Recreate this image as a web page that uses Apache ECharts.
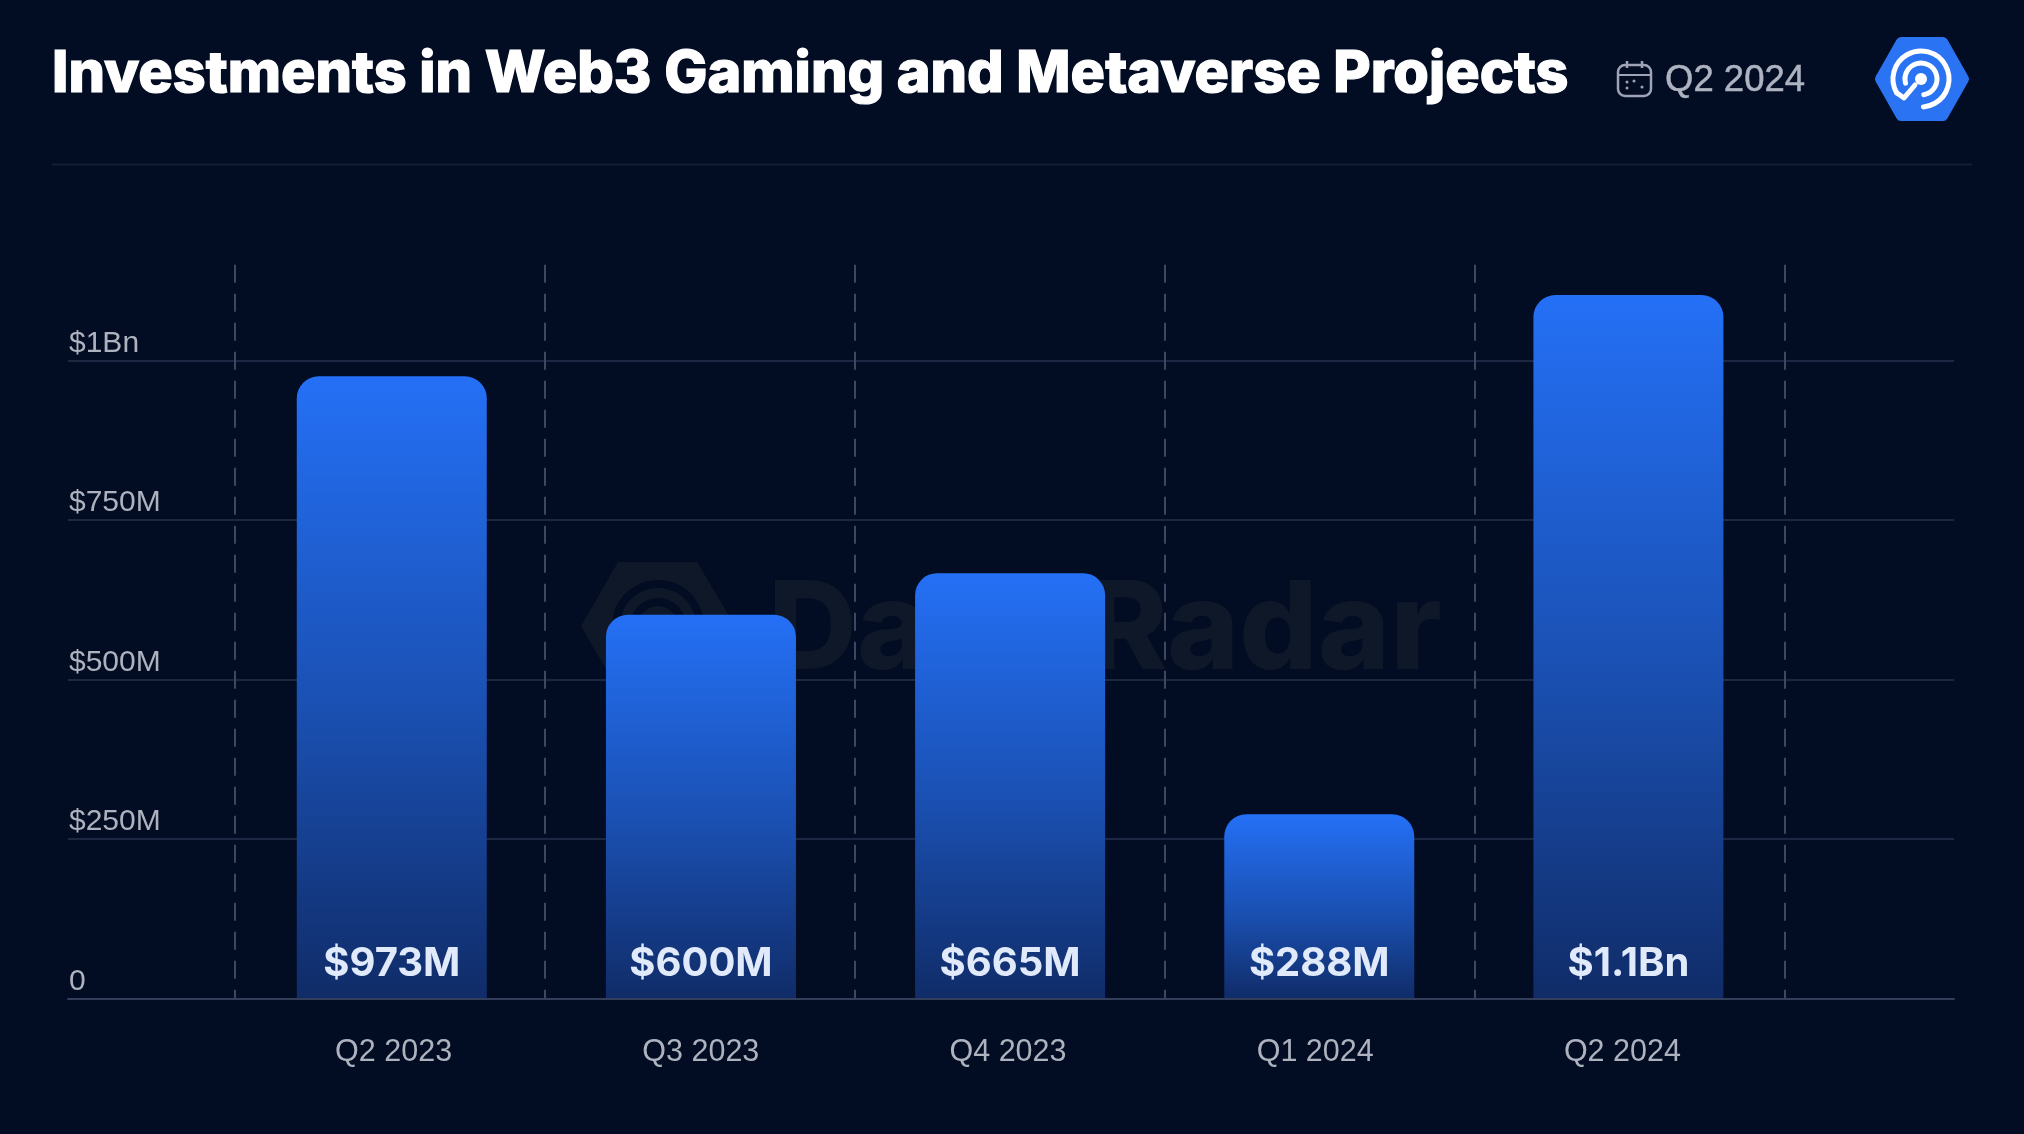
<!DOCTYPE html>
<html>
<head>
<meta charset="utf-8">
<title>Investments in Web3 Gaming and Metaverse Projects</title>
<script src="https://cdn.jsdelivr.net/npm/echarts@6/dist/echarts.min.js"></script>
<style>
  html, body { margin: 0; padding: 0; background: #020c23; }
  #main { width: 2024px; height: 1134px; }
</style>
</head>
<body>
<div id="main"></div>
<script>
var categories = ['Q2 2023', 'Q3 2023', 'Q4 2023', 'Q1 2024', 'Q2 2024'];
var investments = [973, 600, 665, 288, 1100];
var barLabels = ['$973M', '$600M', '$665M', '$288M', '$1.1Bn'];
var yTickValues = [0, 250, 500, 750, 1000];
var yTickLabels = ['0', '$250M', '$500M', '$750M', '$1Bn'];

var FONT = '"Liberation Sans", Arial, sans-serif';
var LOGO_X = 1921, LOGO_Y = 79;
var CAL = '#9ea4b6';

function rad(d) { return d * Math.PI / 180; }

var myChart = echarts.init(document.getElementById('main'));

var option = {
  backgroundColor: '#020c23',
  animation: false,
  title: {
    text: 'Investments in Web3 Gaming and Metaverse Projects',
    left: 52,
    top: 46,
    padding: 0,
    textStyle: {
      color: '#ffffff', fontFamily: 'Inter', fontWeight: 800, fontSize: 57.5,
      textBorderColor: '#ffffff', textBorderWidth: 1.2
    }
  },
  // the reference's rules, columns, bars and labels do not share one spacing,
  // so each gets its own grid: 0 rules, 1 dashed columns, 2 bars, 3 quarter labels
  grid: [
    { left: 68, right: 70, top: 360.5, bottom: 135.5 },
    { left: 235, right: 239, top: 264.8, bottom: 135.5 },
    { left: 237.2, right: 241, top: 263, bottom: 135.5 },
    { left: 240, right: 248, top: 263, bottom: 135.5 }
  ],
  xAxis: [
    {
      gridIndex: 0, type: 'value', min: 0, max: 1,
      axisLabel: { show: false }, axisTick: { show: false }, splitLine: { show: false },
      axisLine: { show: true, lineStyle: { color: '#333e5b', width: 2 } }, z: 3
    },
    {
      gridIndex: 1, type: 'category', data: categories,
      axisLine: { show: false }, axisTick: { show: false }, axisLabel: { show: false },
      splitLine: { show: true, lineStyle: { color: '#3d4760', width: 2, type: [18, 11] } }
    },
    {
      gridIndex: 2, type: 'category', data: categories,
      axisLine: { show: false }, axisTick: { show: false }, axisLabel: { show: false },
      splitLine: { show: false }
    },
    {
      gridIndex: 3, type: 'category', data: categories,
      axisLine: { show: false }, axisTick: { show: false }, splitLine: { show: false },
      axisLabel: { color: '#adb2be', fontFamily: FONT, fontSize: 30.5, margin: 39 }
    }
  ],
  yAxis: [
    {
      gridIndex: 0, type: 'value', min: 0, max: 1000, interval: 250,
      axisLine: { show: false }, axisTick: { show: false },
      splitLine: { show: true, lineStyle: { color: '#1c2742', width: 2 } },
      axisLabel: {
        inside: true, margin: 1, verticalAlign: 'bottom', padding: [0, 0, 2, 0],
        color: '#adb2be', fontFamily: FONT, fontSize: 30,
        formatter: function (v) { return yTickLabels[yTickValues.indexOf(v)]; }
      }
    },
    { gridIndex: 1, type: 'value', min: 0, max: 1150, show: false },
    { gridIndex: 2, type: 'value', min: 0, max: 1150, show: false },
    { gridIndex: 3, type: 'value', min: 0, max: 1150, show: false }
  ],
  series: [{
    type: 'bar',
    xAxisIndex: 2,
    yAxisIndex: 2,
    data: investments,
    barWidth: 190,
    itemStyle: {
      borderRadius: [22, 22, 0, 0],
      color: new echarts.graphic.LinearGradient(0, 0, 0, 1, [
        { offset: 0, color: '#2470f6' },
        { offset: 0.55, color: '#1a4fb0' },
        { offset: 1, color: '#102c68' }
      ])
    },
    label: {
      show: true,
      position: 'insideBottom',
      distance: 15,
      color: '#e0eafb',
      fontFamily: 'Inter',
      fontWeight: 'bold',
      fontSize: 40,
      formatter: function (p) { return barLabels[p.dataIndex]; }
    }
  }],
  graphic: [
    // divider under the header
    { type: 'line', z: 1, shape: { x1: 52, y1: 164.5, x2: 1972, y2: 164.5 }, style: { stroke: '#141d36', lineWidth: 2 } },
    // period
    { type: 'text', z: 1, x: 1665, y: 62, style: { text: 'Q2 2024', fill: '#aeb3c1', font: '36.5px ' + FONT, stroke: '#aeb3c1', lineWidth: 0.5 } },
    // calendar icon
    { type: 'rect', z: 1, shape: { x: 1618, y: 65, width: 33, height: 31, r: 7 }, style: { fill: 'none', stroke: CAL, lineWidth: 2.5 } },
    { type: 'line', z: 1, shape: { x1: 1618, y1: 75, x2: 1651, y2: 75 }, style: { stroke: CAL, lineWidth: 2 } },
    { type: 'line', z: 1, shape: { x1: 1627, y1: 61, x2: 1627, y2: 68 }, style: { stroke: CAL, lineWidth: 2.5 } },
    { type: 'line', z: 1, shape: { x1: 1642, y1: 61, x2: 1642, y2: 68 }, style: { stroke: CAL, lineWidth: 2.5 } },
    { type: 'circle', z: 1, shape: { cx: 1627, cy: 82, r: 1.5 }, style: { fill: CAL } },
    { type: 'circle', z: 1, shape: { cx: 1634, cy: 81, r: 1.5 }, style: { fill: CAL } },
    { type: 'circle', z: 1, shape: { cx: 1627, cy: 88, r: 1.5 }, style: { fill: CAL } },
    { type: 'circle', z: 1, shape: { cx: 1642, cy: 87, r: 1.5 }, style: { fill: CAL } },
    // logo
    {
      type: 'polygon', z: 1,
      shape: { points: [[1880, 79], [1901, 42], [1943, 42], [1964, 79], [1943, 116], [1901, 116]] },
      style: { fill: '#2a73f3', stroke: '#2a73f3', lineWidth: 10, lineJoin: 'round' }
    },
    { type: 'arc', z: 2, shape: { cx: LOGO_X, cy: LOGO_Y, r: 28, startAngle: rad(150), endAngle: rad(85), clockwise: true }, style: { fill: 'none', stroke: '#fff', lineWidth: 5, lineCap: 'round' } },
    { type: 'arc', z: 2, shape: { cx: LOGO_X, cy: LOGO_Y, r: 16, startAngle: rad(165), endAngle: rad(80), clockwise: true }, style: { fill: 'none', stroke: '#fff', lineWidth: 5, lineCap: 'round' } },
    { type: 'polyline', z: 2, shape: { points: [[1897, 93], [1904, 98], [1915, 85]] }, style: { fill: 'none', stroke: '#fff', lineWidth: 5, lineJoin: 'round', lineCap: 'round' } },
    { type: 'circle', z: 2, shape: { cx: LOGO_X, cy: LOGO_Y, r: 6 }, style: { fill: '#fff' } },
    // watermark behind the bars
    {
      type: 'polygon', z: 0,
      shape: { points: [[581, 626], [618, 562], [697, 562], [735, 626], [697, 690], [618, 690]] },
      style: { fill: '#0f1829' }
    },
    { type: 'arc', z: 0, shape: { cx: 658, cy: 626, r: 42, startAngle: rad(150), endAngle: rad(85), clockwise: true }, style: { fill: 'none', stroke: '#020c23', lineWidth: 8 } },
    { type: 'arc', z: 0, shape: { cx: 658, cy: 626, r: 24, startAngle: rad(165), endAngle: rad(80), clockwise: true }, style: { fill: 'none', stroke: '#020c23', lineWidth: 8 } },
    { type: 'text', z: 0, x: 768, y: 571, style: { text: 'DappRadar', fill: '#0f1829', font: '800 123px Inter' } }
  ]
};

myChart.setOption(option);
</script>
</body>
</html>
